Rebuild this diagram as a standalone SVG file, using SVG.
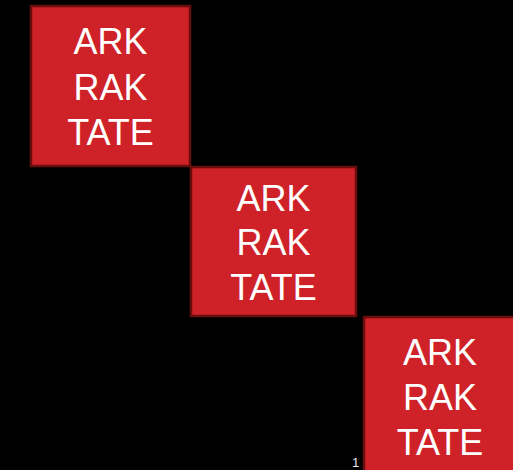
<svg xmlns="http://www.w3.org/2000/svg" width="513" height="470" viewBox="0 0 513 470">
  <style>
    .box { fill: #cf2228; stroke: #6a0d0d; stroke-width: 2.5; }
    .lbl { fill: #ffffff; font-family: "Liberation Sans", Arial, sans-serif; font-size: 36px; text-anchor: middle; }
    .num { fill: #e6e6e6; font-family: "Liberation Sans", Arial, sans-serif; font-size: 13px; }
  </style>
  <rect width="513" height="470" fill="#000000"/>
  <g id="node1">
    <rect class="box" x="31" y="6" width="159" height="160"/>
    <text class="lbl" x="110.5" y="54">ARK</text>
    <text class="lbl" x="110.5" y="99.5">RAK</text>
    <text class="lbl" x="110.5" y="145">TATE</text>
  </g>
  <g id="node2">
    <rect class="box" x="191" y="167" width="165" height="149"/>
    <text class="lbl" x="273.5" y="210.5">ARK</text>
    <text class="lbl" x="273.5" y="255">RAK</text>
    <text class="lbl" x="273.5" y="299.5">TATE</text>
  </g>
  <g id="node3">
    <rect class="box" x="364" y="317" width="160" height="170"/>
    <text class="lbl" x="440" y="365">ARK</text>
    <text class="lbl" x="440" y="410">RAK</text>
    <text class="lbl" x="440" y="455">TATE</text>
  </g>
  <g id="connectors"></g>
  <text class="num" x="352" y="467">1</text>
</svg>
